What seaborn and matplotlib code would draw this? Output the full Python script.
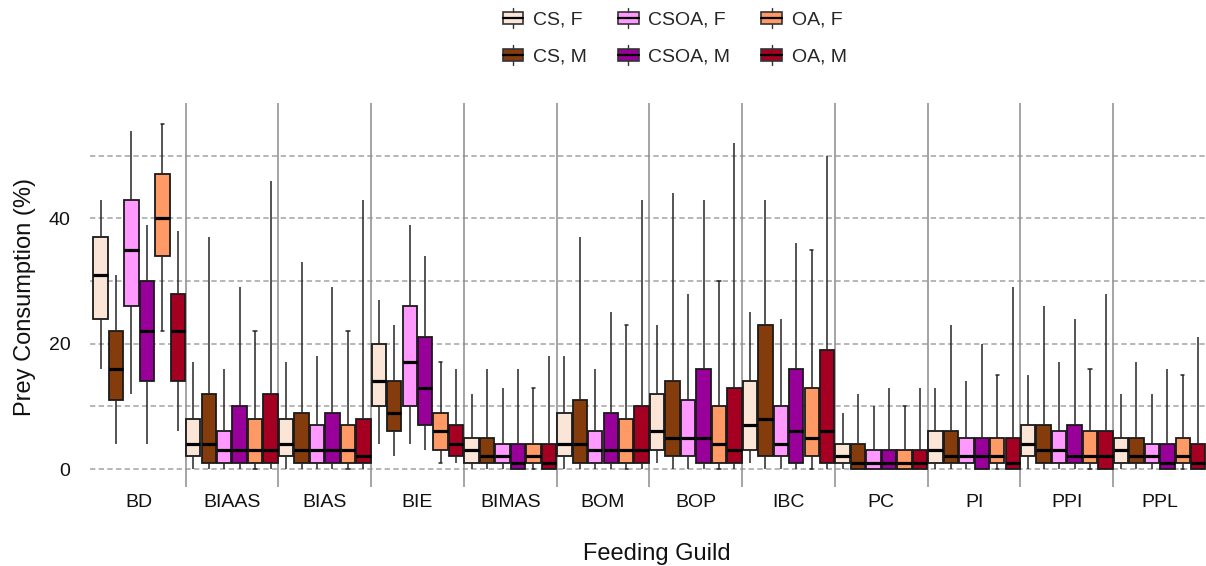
import numpy as np
import pandas as pd
import matplotlib
matplotlib.use("Agg")
import matplotlib.pyplot as plt
from matplotlib.patches import Patch, Rectangle
from matplotlib.lines import Line2D
from matplotlib.legend_handler import HandlerBase
import seaborn as sns

# Feeding guilds on the x axis
guilds = ["BD", "BIAAS", "BIAS", "BIE", "BIMAS", "BOM", "BOP", "IBC", "PC", "PI", "PPI", "PPL"]

# Diet groups (diet, sex)
groups = ["CS, F", "CS, M", "CSOA, F", "CSOA, M", "OA, F", "OA, M"]
group_colors = ["#FBE5D6", "#843C0C", "#FF99FF", "#990099", "#FF9966", "#A50021"]

# Five-number summaries per guild: (min, Q1, median, Q3, max), prey consumption in %
cs_f = [(16, 24, 31, 37, 43), (0, 2, 4, 8, 17), (0, 2, 4, 8, 17), (4, 10, 14, 20, 27),
        (0, 1, 3, 5, 12), (0, 2, 4, 9, 18), (1, 3, 6, 12, 23), (1, 3, 7, 14, 25),
        (0, 1, 2, 4, 9), (0, 1, 3, 6, 13), (0, 2, 4, 7, 15), (0, 1, 3, 5, 12)]
cs_m = [(4, 11, 16, 22, 31), (0, 1, 4, 12, 37), (0, 1, 3, 9, 33), (2, 6, 9, 14, 23),
        (0, 1, 2, 5, 16), (0, 1, 4, 11, 37), (0, 2, 5, 14, 44), (0, 2, 8, 23, 43),
        (0, 0, 1, 4, 12), (0, 1, 2, 6, 23), (0, 1, 3, 7, 26), (0, 1, 2, 5, 17)]
csoa_f = [(12, 26, 35, 43, 54), (0, 1, 3, 6, 16), (0, 1, 3, 7, 18), (4, 10, 17, 26, 39),
          (0, 1, 2, 4, 13), (0, 1, 3, 6, 16), (0, 2, 5, 11, 28), (0, 2, 4, 10, 24),
          (0, 0, 1, 3, 10), (0, 1, 2, 5, 14), (0, 1, 3, 6, 17), (0, 1, 2, 4, 12)]
csoa_m = [(4, 14, 22, 30, 39), (0, 1, 3, 10, 29), (0, 1, 3, 9, 29), (3, 7, 13, 21, 34),
          (0, 0, 1, 4, 16), (0, 1, 3, 9, 25), (0, 1, 5, 16, 43), (0, 1, 6, 16, 36),
          (0, 0, 1, 3, 13), (0, 0, 2, 5, 20), (0, 1, 2, 7, 24), (0, 0, 1, 4, 16)]
oa_f = [(22, 34, 40, 47, 55), (0, 1, 3, 8, 22), (0, 1, 3, 7, 22), (1, 3, 6, 9, 17),
        (0, 1, 2, 4, 13), (0, 1, 3, 8, 23), (0, 1, 4, 10, 30), (0, 2, 5, 13, 35),
        (0, 0, 1, 3, 10), (0, 1, 2, 5, 15), (0, 1, 2, 6, 16), (0, 1, 2, 5, 15)]
oa_m = [(6, 14, 22, 28, 38), (0, 1, 3, 12, 46), (0, 1, 2, 8, 43), (1, 2, 4, 7, 16),
        (0, 0, 1, 4, 18), (0, 1, 3, 10, 43), (0, 1, 3, 13, 52), (0, 1, 6, 19, 50),
        (0, 0, 1, 3, 13), (0, 0, 1, 5, 29), (0, 0, 2, 6, 28), (0, 0, 1, 4, 21)]

gridline_values = [0, 10, 20, 30, 40, 50]
ytick_values = [0, 20, 40]

# Long table: each summary contributes its five points, so the box statistics
# (quartiles with whiskers at min/max) reproduce the summary exactly.
rows = []
for name, summaries in zip(groups, [cs_f, cs_m, csoa_f, csoa_m, oa_f, oa_m]):
    for guild, summary in zip(guilds, summaries):
        for v in summary:
            rows.append({"guild": guild, "group": name, "value": v})
df = pd.DataFrame(rows)

sns.set_style("white")
plt.rcParams["font.family"] = ["Liberation Sans", "DejaVu Sans"]

W, H = 1206, 566
fig = plt.figure(figsize=(W / 100, H / 100), dpi=100)
ax_left, ax_bottom_px, ax_top_px = 90, 490, 103
ax_w = W - ax_left
ax_h = ax_bottom_px - ax_top_px
ax = fig.add_axes([ax_left / W, (H - ax_bottom_px) / H, ax_w / W, ax_h / H])

palette = dict(zip(groups, group_colors))
sns.boxplot(
    data=df, x="guild", y="value", hue="group",
    order=guilds, hue_order=groups, palette=palette, saturation=1,
    width=1.0, gap=0.07, whis=(0, 100), fliersize=0,
    linecolor="#1a1a1a", linewidth=1.3,
    medianprops=dict(color="black", linewidth=2.3),
    whiskerprops=dict(color="#262626", linewidth=1.1),
    legend=False, ax=ax, zorder=3,
)

# Caps only on the OA, F boxes, kept very short
oa_f_rgb = matplotlib.colors.to_rgba(palette["OA, F"])
for cont in ax.containers:
    boxes = getattr(cont, "boxes", None)
    if not boxes:
        continue
    is_oaf = np.allclose(boxes[0].get_facecolor(), oa_f_rgb, atol=0.02)
    for cap in cont.caps:
        if is_oaf:
            xd = np.asarray(cap.get_xdata(), dtype=float)
            c = xd.mean()
            cap.set_xdata([c - 0.018, c + 0.018])
            cap.set_color("#262626")
            cap.set_linewidth(1.1)
        else:
            cap.set_visible(False)

ax.set_xlim(-0.53, len(guilds) - 0.5)
ax.set_ylim(-3.35, 58.4)

# Dashed horizontal guides and group separators
for gv in gridline_values:
    ax.axhline(gv, color="#aaaaaa", linewidth=1.2, linestyle=(0, (3.2, 2.0)), zorder=1)
for k in range(len(guilds) - 1):
    ax.vlines(k + 0.5, -2.9, 58.4, color="#8c8c8c", linewidth=1.1, zorder=1)

for s in ax.spines.values():
    s.set_visible(False)
ax.set_yticks(ytick_values)
ax.set_yticklabels([str(v) for v in ytick_values])
ax.tick_params(axis="both", length=0, labelsize=14, colors="#111111")
ax.tick_params(axis="x", pad=3)
ax.tick_params(axis="y", pad=14)
ax.set_xlabel("Feeding Guild", fontsize=17, color="#111111")
ax.set_ylabel("Prey Consumption (%)", fontsize=17, color="#111111")
ax.xaxis.set_label_coords((657 - ax_left) / ax_w, -(543 - ax_bottom_px) / ax_h)
ax.yaxis.set_label_coords(-(ax_left - 36) / ax_w, 0.5)


class BoxGlyph(HandlerBase):
    """Legend key drawn as a tiny box-and-whisker glyph."""

    def create_artists(self, legend, orig_handle, xdescent, ydescent,
                       width, height, fontsize, trans):
        x0, y0 = -xdescent, -ydescent
        bh = height * 0.56
        by = y0 + (height - bh) / 2
        cx = x0 + width / 2
        box = Rectangle((x0, by), width, bh, facecolor=orig_handle.get_facecolor(),
                        edgecolor="#333333", linewidth=1.2, transform=trans)
        med = Line2D([x0, x0 + width], [by + bh / 2] * 2, color="black",
                     linewidth=1.6, transform=trans)
        top = Line2D([cx, cx], [by + bh, y0 + height], color="#333333",
                     linewidth=1.0, transform=trans)
        bot = Line2D([cx, cx], [y0, by], color="#333333", linewidth=1.0,
                     transform=trans)
        return [box, med, top, bot]


handles = [Patch(facecolor=c, label=g) for g, c in zip(groups, group_colors)]
fig.legend(
    handles=handles, handler_map={Patch: BoxGlyph()}, ncol=3,
    loc="upper left", bbox_to_anchor=(503 / W, 1 - 8 / H),
    frameon=False, fontsize=14, handlelength=1.05, handleheight=1.2,
    handletextpad=0.5, columnspacing=1.6, labelspacing=0.85,
    borderpad=0, borderaxespad=0,
)

fig.savefig("out.png", dpi=100, facecolor="white")
